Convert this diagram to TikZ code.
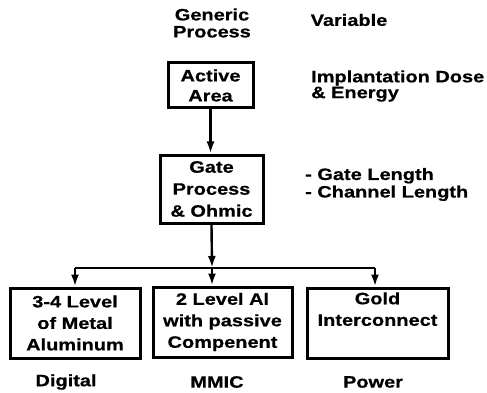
\documentclass[tikz,border=0pt]{standalone}
\usepackage{fontspec}
\setmainfont{Liberation Sans}[FakeStretch=1.21, BoldFeatures={FakeBold=0.6}]
\usetikzlibrary{arrows.meta}
\begin{document}
\begin{tikzpicture}[x=1pt,y=-1pt,
  lbl/.style={font={\bfseries\fontsize{16.5}{17}\selectfont}, align=center, inner sep=0pt},
  box/.style={draw, line width=3pt, inner sep=0pt, align=center, font={\bfseries\fontsize{16.5}{21.5}\selectfont}},
  arr/.style={line width=2.4pt, -{Latex[length=12pt,width=8pt]}},
  bar/.style={line width=2.2pt}]
\useasboundingbox (0,0) rectangle (487,393);
\node[lbl] (generic) at (212,23) {Generic\\Process};
\node[lbl] (variable) at (349,20) {Variable};
\node[box, minimum width=85pt, minimum height=45pt, font={\bfseries\fontsize{16.5}{20}\selectfont}] (active) at (210.5,85.5) {Active\\Area};
\node[lbl, anchor=west, align=left, font={\bfseries\fontsize{16.5}{12.5}\selectfont}] (implant) at (311,86) {Implantation Dose\\\& Energy};
\node[box, minimum width=103pt, minimum height=68pt, font={\bfseries\fontsize{16.5}{22}\selectfont}] (gate) at (211.5,189) {Gate\\Process\\\& Ohmic};
\node[lbl, anchor=west, align=left, font={\bfseries\fontsize{16.5}{17.5}\selectfont}] (len) at (305,184.5) {- Gate Length\\- Channel Length};
\coordinate (split) at (212,268);
\coordinate (sl) at (75,268);
\coordinate (sr) at (375,268);
\node[box, minimum width=130pt, minimum height=70pt] (digbox) at (75,323) {3-4 Level\\of Metal\\Aluminum};
\node[box, minimum width=139pt, minimum height=70pt] (mmicbox) at (222.5,322) {2 Level Al\\with passive\\Compenent};
\node[box, minimum width=141pt, minimum height=70pt] (powbox) at (377.5,323) {Gold\\Interconnect\\\strut};
\node[lbl] (dig) at (66,382) {Digital};
\node[lbl] (mmic) at (217,382) {MMIC};
\node[lbl] (pow) at (373,382) {Power};
\draw[arr] (active.south) -- (active.south |- gate.north);
\draw[arr] (gate.south) -- (split);
\draw[bar] (sl) -- (sr);
\draw[arr] (sl) -- (sl |- digbox.north);
\draw[arr] (split) -- (split |- mmicbox.north);
\draw[arr] (sr) -- (sr |- powbox.north);
\end{tikzpicture}
\end{document}
